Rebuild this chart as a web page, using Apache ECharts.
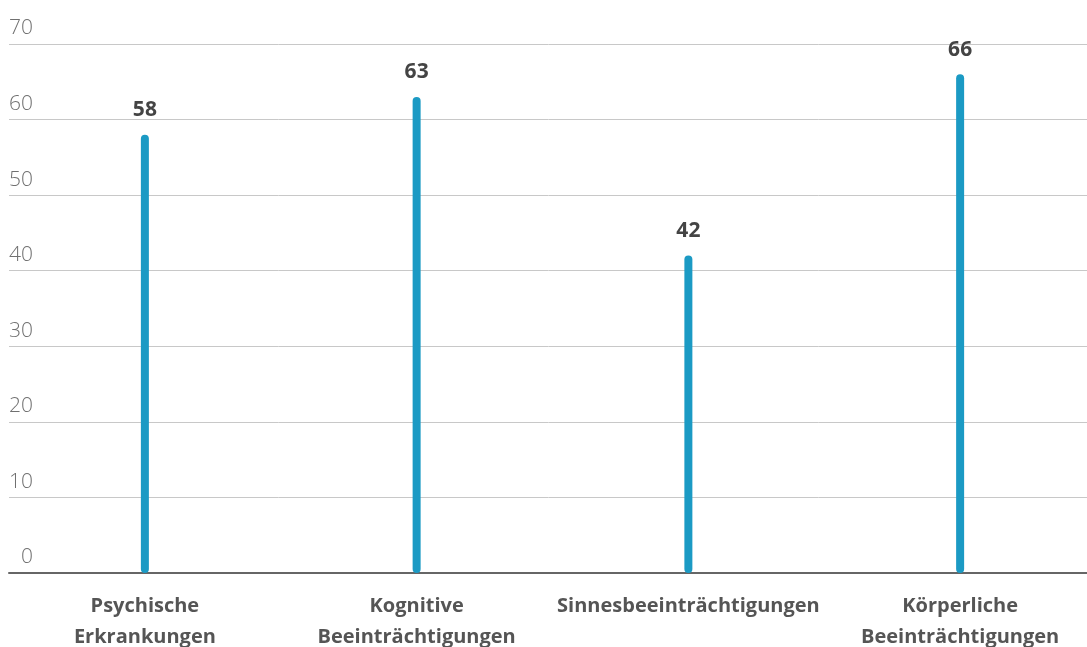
<!DOCTYPE html>
<html>
<head>
<meta charset="utf-8">
<style>
  html, body { margin: 0; padding: 0; background: #ffffff; }
  #chart { width: 1087px; height: 647px; }
</style>
<script src="https://cdn.jsdelivr.net/npm/echarts@6/dist/echarts.min.js"></script>
</head>
<body>
<div id="chart"></div>
<script>
// Categories (two-line labels) and their values
const categories = [
  'Psychische\nErkrankungen',
  'Kognitive\nBeeinträchtigungen',
  'Sinnesbeeinträchtigungen',
  'Körperliche\nBeeinträchtigungen'
];
const values = [58, 63, 42, 66];
const yTicks = [0, 10, 20, 30, 40, 50, 60, 70];

const chart = echarts.init(document.getElementById('chart'), null, { renderer: 'canvas' });

chart.setOption({
  animation: false,
  backgroundColor: '#ffffff',
  grid: {
    left: 9, width: 1087, top: 44, bottom: 74,
    containLabel: false,
    outerBoundsMode: 'none'
  },
  xAxis: {
    type: 'category',
    data: categories,
    axisTick: { show: false },
    axisLine: { show: true, lineStyle: { color: '#666666', width: 2 } },
    axisLabel: {
      interval: 0,
      margin: 18,
      color: '#555555',
      fontFamily: 'Open Sans',
      fontWeight: 'bold',
      fontSize: 20,
      lineHeight: 31
    }
  },
  yAxis: {
    type: 'value',
    min: yTicks[0],
    max: yTicks[yTicks.length - 1],
    interval: 10,
    axisLine: { show: false },
    axisTick: { show: false },
    splitLine: { lineStyle: { color: '#c8c8c8', width: 1 } },
    axisLabel: {
      inside: true,
      align: 'right',
      verticalAlign: 'bottom',
      margin: 24,
      padding: [0, 0, 5, 0],
      color: '#707070',
      fontFamily: 'Open Sans',
      fontWeight: 300,
      fontSize: 21
    }
  },
  series: [{
    type: 'bar',
    data: values,
    barWidth: 8,
    itemStyle: { color: '#1b9ac4', borderRadius: 4 },
    label: {
      show: true,
      position: 'top',
      distance: 14,
      color: '#444444',
      fontFamily: 'Open Sans',
      fontWeight: 'bold',
      fontSize: 21
    }
  }]
});
</script>
</body>
</html>
